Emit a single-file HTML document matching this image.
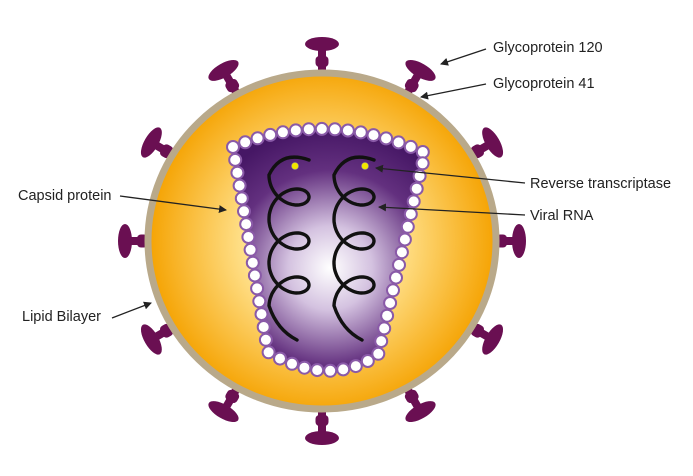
<!DOCTYPE html>
<html><head><meta charset="utf-8"><style>
html,body{margin:0;padding:0;background:#fff;width:693px;height:476px;overflow:hidden}
text{font-family:"Liberation Sans",sans-serif;font-size:14.5px;fill:#222}
</style></head><body>
<svg id="s" width="693" height="476" viewBox="0 0 693 476" xmlns="http://www.w3.org/2000/svg">
<defs>
<radialGradient id="yg" cx="322" cy="241" r="175" gradientUnits="userSpaceOnUse">
<stop offset="0" stop-color="#fffbe8"/><stop offset="0.45" stop-color="#ffe08a"/><stop offset="1" stop-color="#f5a200"/>
</radialGradient>
<radialGradient id="pg" cx="330" cy="268" r="140" gradientUnits="userSpaceOnUse">
<stop offset="0" stop-color="#ffffff"/><stop offset="0.3" stop-color="#d4c2e0"/><stop offset="0.7" stop-color="#63307f"/><stop offset="1" stop-color="#461765"/>
</radialGradient>
<marker id="ar" markerWidth="8" markerHeight="8" refX="7" refY="4" orient="auto" markerUnits="userSpaceOnUse"><path d="M0,0 L8,4 L0,8 Z" fill="#222"/></marker>
</defs>
<g id="spikes"></g>
<ellipse cx="322" cy="241" rx="174" ry="168" fill="url(#yg)" stroke="#b9a98a" stroke-width="7"/>
<path id="cap" d="M233,147 Q327,108 425,153 L378,355 Q328,388 268,352 Z" fill="url(#pg)" stroke="#5a2a7a" stroke-width="3"/>
<g id="beads"></g>
<g id="hel" fill="none" stroke="#111" stroke-width="3.4" stroke-linecap="round"></g>
<circle cx="295" cy="166" r="3.5" fill="#f2e600" stroke="#999" stroke-width="0.5"/>
<circle cx="365" cy="166" r="3.5" fill="#f2e600" stroke="#999" stroke-width="0.5"/>
<g stroke="#222" stroke-width="1.3" fill="none" marker-end="url(#ar)">
<line x1="486" y1="49" x2="441" y2="64"/>
<line x1="486" y1="84" x2="421" y2="97"/>
<line x1="525" y1="183" x2="376" y2="168"/>
<line x1="525" y1="215" x2="379" y2="207"/>
<line x1="120" y1="196" x2="226" y2="210"/>
<line x1="112" y1="318" x2="151" y2="303"/>
</g>
<text x="493" y="52">Glycoprotein 120</text>
<text x="493" y="88">Glycoprotein 41</text>
<text x="530" y="188">Reverse transcriptase</text>
<text x="530" y="220">Viral RNA</text>
<text x="18" y="200">Capsid protein</text>
<text x="22" y="321">Lipid Bilayer</text>
</svg>
<script>
var sp=document.getElementById('spikes'),h='';
for(var k=0;k<12;k++){var a=k*30;
h+='<g transform="rotate('+a+' 322 241)"><rect x="318" y="44" width="8" height="30" rx="3" fill="#6a0f52"/><rect x="315.5" y="56" width="13" height="11" rx="4" fill="#6a0f52"/><ellipse cx="322" cy="44" rx="17" ry="7" fill="#6a0f52"/></g>';}
sp.innerHTML=h;
var cap=document.getElementById('cap'),L=cap.getTotalLength(),n=Math.round(L/13),b='';
for(var i=0;i<n;i++){var p=cap.getPointAtLength(i*L/n);b+='<circle cx="'+p.x.toFixed(1)+'" cy="'+p.y.toFixed(1)+'" r="6" fill="#fff" stroke="#8a5aa8" stroke-width="2"/>';}
document.getElementById('beads').innerHTML=b;
var hs='';
[287,352].forEach(function(cx){
 var d='M'+(cx+22)+','+160+' Q'+(cx-6)+',150 '+(cx-18)+',175 ';
 var y0=175,bb=7,B=11,A=20;
 for(var t=0;t<=6*Math.PI+0.01;t+=0.1){
  var x=cx-A*Math.cos(t)+2, y=y0+bb*t+B*Math.sin(t)*1.6;
  d+=(t==0?'L':'')+x.toFixed(1)+','+y.toFixed(1)+' ';}
 d+='Q'+(cx-10)+',330 '+(cx+10)+',340';
 hs+='<path d="'+d+'"/>';});
document.getElementById('hel').innerHTML=hs;
</script>
</body></html>
